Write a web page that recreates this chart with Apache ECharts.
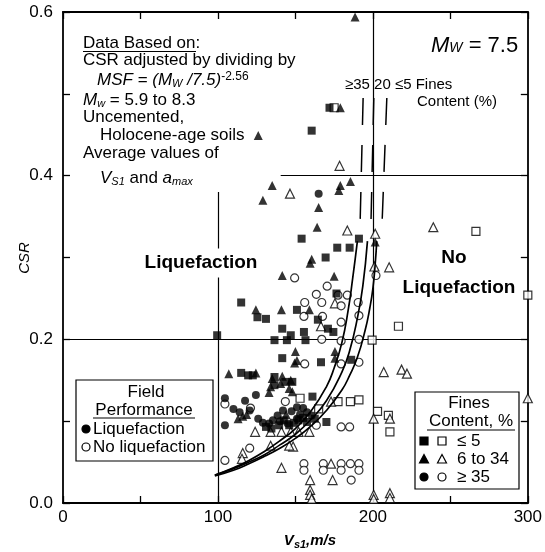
<!DOCTYPE html>
<html>
<head>
<meta charset="utf-8">
<title>CSR vs Vs1</title>
<script src="https://cdn.jsdelivr.net/npm/echarts@6/dist/echarts.min.js"></script>
<style>
  html, body { margin: 0; padding: 0; background: #fff; }
  #chart { width: 545px; height: 552px; }
</style>
</head>
<body>
<div id="chart"></div>
<script>
// tick labels
var xLabelValues = [0, 100, 200, 300];
var yLabelValues = [0.0, 0.2, 0.4, 0.6];

// field case histories [Vs1 (m/s), CSR]
// liquefaction, fines <= 5 %
var liqSand = [
  [172, 0.483], [160.5, 0.455], [154, 0.323], [191, 0.323], [177, 0.312], [185, 0.312],
  [169.5, 0.300], [176.5, 0.256], [115, 0.245], [125.5, 0.227], [131, 0.225], [151, 0.236],
  [164.5, 0.224], [171, 0.213], [174.5, 0.209], [141.5, 0.213], [147, 0.205], [155.5, 0.209],
  [156.5, 0.199], [136.5, 0.199], [144.5, 0.199], [99.5, 0.205], [141.5, 0.177], [166.5, 0.172],
  [186, 0.175], [115, 0.159], [119.5, 0.156], [122.5, 0.156], [136.5, 0.154], [136.5, 0.144],
  [143.5, 0.148], [148, 0.148], [161, 0.130], [170, 0.099], [131, 0.093], [134.5, 0.091],
  [139.5, 0.095], [146, 0.095], [152, 0.101], [157.5, 0.099], [162.5, 0.103], [149, 0.098],
  [155, 0.104], [142.5, 0.101]
];
// liquefaction, fines 6 to 34 %
var liqSilty = [
  [188.5, 0.594], [179, 0.483], [126, 0.449], [185.5, 0.393], [179, 0.388], [178, 0.382],
  [135, 0.388], [129, 0.370], [165, 0.361], [164, 0.337], [201.5, 0.319], [160.5, 0.298],
  [159.5, 0.293], [141.5, 0.278], [175, 0.277], [124.5, 0.236], [141, 0.236], [159, 0.236],
  [150, 0.185], [151, 0.174], [149.5, 0.171], [175.5, 0.185], [175.5, 0.177], [107, 0.158],
  [124.5, 0.159], [135, 0.152], [141.5, 0.155], [147, 0.150], [134, 0.142], [140.5, 0.146],
  [146, 0.140], [133, 0.135], [148, 0.136], [113, 0.103], [116, 0.106], [118.5, 0.108],
  [144, 0.108]
];
// liquefaction, fines >= 35 %
var liqFines = [
  [165, 0.378], [104.5, 0.128], [104.5, 0.095], [110, 0.115], [114, 0.111], [117.5, 0.125],
  [124.5, 0.132], [120.5, 0.113], [126, 0.103], [129, 0.098], [133, 0.097], [135.5, 0.101],
  [138.5, 0.107], [142, 0.113], [145, 0.097], [151, 0.103], [151, 0.117], [153, 0.108],
  [157.5, 0.111], [160.5, 0.107], [147.5, 0.112], [140, 0.100], [155, 0.116]
];
// no liquefaction, fines <= 5 %
var nonSand = [
  [175, 0.483], [266.5, 0.332], [300, 0.254], [216.5, 0.216], [199.5, 0.199], [203, 0.112],
  [210, 0.107], [211, 0.087], [177.5, 0.124], [185.5, 0.124], [191, 0.126], [153, 0.128],
  [165, 0.115]
];
// no liquefaction, fines 6 to 34 %
var nonSilty = [
  [178.5, 0.412], [146.5, 0.378], [183.5, 0.333], [201.5, 0.329], [201, 0.289], [210.5, 0.288],
  [239, 0.337], [175.5, 0.244], [166.5, 0.216], [207, 0.160], [218.5, 0.163], [222, 0.158],
  [300, 0.128], [200.5, 0.103], [211, 0.103], [200.5, 0.010], [200.5, 0.005], [211, 0.012],
  [211, 0.006], [159.5, 0.016], [159.5, 0.010], [160.5, 0.005], [159.5, 0.028], [141, 0.043],
  [173, 0.048], [174, 0.028], [173, 0.124], [124, 0.087], [134, 0.087], [141, 0.087],
  [147, 0.087], [152, 0.087], [159, 0.087], [148.5, 0.069], [146, 0.070], [134, 0.070],
  [116, 0.061], [115.5, 0.054]
];
// no liquefaction, fines >= 35 %
var nonFines = [
  [149.5, 0.275], [170.5, 0.265], [202, 0.278], [163.5, 0.255], [167, 0.245], [156, 0.245],
  [177.5, 0.254], [183.5, 0.254], [190.5, 0.245], [179.5, 0.241], [155.5, 0.228], [167.5, 0.228],
  [179.5, 0.221], [191, 0.229], [167, 0.200], [179.5, 0.198], [191, 0.200], [156, 0.170],
  [179.5, 0.170], [191, 0.172], [143.5, 0.124], [104.5, 0.121], [121, 0.116], [163.5, 0.095],
  [120.5, 0.067], [104.5, 0.052], [179.5, 0.093], [185, 0.093], [155.5, 0.048], [155.5, 0.040],
  [168, 0.048], [168, 0.040], [179.5, 0.048], [179.5, 0.040], [185.5, 0.048], [186, 0.028],
  [191, 0.048], [191, 0.040]
];

// boundary curves
var curveFC35 = [
  [98, 0.034], [110, 0.043], [120, 0.052], [130, 0.063], [140, 0.076], [150, 0.091],
  [160, 0.112], [170, 0.142], [175, 0.165], [180, 0.196], [184, 0.235], [187, 0.275], [190, 0.320]
];
var curveFC20 = [
  [98, 0.034], [110, 0.042], [120, 0.050], [130, 0.059], [140, 0.071], [150, 0.084],
  [160, 0.102], [170, 0.125], [180, 0.160], [185, 0.186], [190, 0.226], [193.5, 0.265], [196.5, 0.320]
];
var curveFC5 = [
  [98, 0.033], [110, 0.040], [120, 0.048], [130, 0.057], [140, 0.067], [150, 0.079],
  [160, 0.094], [170, 0.113], [180, 0.138], [185, 0.156], [190, 0.178], [195, 0.211],
  [198, 0.238], [200, 0.262], [201.5, 0.292], [202.5, 0.320]
];

// solid guide lines and dashed asymptotes
var guideLines = [
  [[200, 0], [200, 0.6]],
  [[100, 0], [100, 0.38]],
  [[0, 0.2], [300, 0.2]],
  [[140.5, 0.4], [300, 0.4]]
];
var asymptotes = [
  [[193.7, 0.495], [191.8, 0.345]],
  [[200.6, 0.495], [198.8, 0.345]],
  [[209, 0.495], [206, 0.345]]
];

var FONT = '"Liberation Sans", Arial, Helvetica, sans-serif';

function near(list, v) {
  return list.some(function (t) { return Math.abs(t - v) < 1e-6; });
}

function scatter(name, data, symbol, filled, size) {
  return {
    name: name,
    type: 'scatter',
    data: data,
    symbol: symbol,
    symbolSize: size,
    itemStyle: filled
      ? { color: '#000' }
      : { color: '#fff', borderColor: '#000', borderWidth: 1.2 },
    z: filled ? 4 : 3
  };
}

function curve(name, data) {
  return {
    name: name,
    type: 'line',
    data: data,
    smooth: true,
    symbol: 'none',
    lineStyle: { color: '#000', width: 1.7 },
    z: 5
  };
}

function txt(x, y, text, font, align) {
  return {
    type: 'text', x: x, y: y, z: 50,
    style: { text: text, font: font || '17px ' + FONT, fill: '#000',
             textAlign: align || 'left', verticalAlign: 'middle' }
  };
}

function richTxt(x, y, text, rich, align) {
  return {
    type: 'text', x: x, y: y, z: 50,
    style: { text: text, rich: rich, fill: '#000', lineHeight: 19,
             textAlign: align || 'left', verticalAlign: 'middle' }
  };
}

function hline(x1, x2, y) {
  return { type: 'line', z: 50, shape: { x1: x1, y1: y, x2: x2, y2: y },
           style: { stroke: '#000', lineWidth: 1.2 } };
}

var norm = { font: '17px ' + FONT, verticalAlign: 'middle' };
var ital = { font: 'italic 17px ' + FONT, verticalAlign: 'middle' };
var sub = { font: 'italic 11px ' + FONT, verticalAlign: 'bottom' };
var sup = { font: '12px ' + FONT, verticalAlign: 'top' };

// legend symbols (decoration only)
function sq(cx, cy, filled) {
  return { type: 'rect', z: 50, shape: { x: cx - 4, y: cy - 4, width: 8, height: 8 },
           style: { fill: filled ? '#000' : '#fff', stroke: '#000', lineWidth: 1.2 } };
}
function tri(cx, cy, filled) {
  return { type: 'polygon', z: 50, shape: { points: [[cx, cy - 4.5], [cx + 4.5, cy + 4], [cx - 4.5, cy + 4]] },
           style: { fill: filled ? '#000' : '#fff', stroke: '#000', lineWidth: 1.2 } };
}
function dot(cx, cy, filled) {
  return { type: 'circle', z: 50, shape: { cx: cx, cy: cy, r: 4 },
           style: { fill: filled ? '#000' : '#fff', stroke: '#000', lineWidth: 1.2 } };
}

var chart = echarts.init(document.getElementById('chart'));

var axisLine = { onZero: false, lineStyle: { color: '#000', width: 1.8 } };
var axisTick = { inside: true, length: 7, lineStyle: { color: '#000', width: 1.3 } };

var option = {
  animation: false,
  backgroundColor: '#fff',
  grid: { left: 63, top: 12, width: 474, height: 491 },
  xAxis: [
    {
      type: 'value', position: 'bottom', min: 0, max: 300, interval: 50,
      axisLine: axisLine, axisTick: axisTick, splitLine: { show: false },
      axisLabel: {
        margin: 6, color: '#000', fontSize: 17, fontFamily: FONT,
        formatter: function (v) { return near(xLabelValues, v) ? String(v) : ''; }
      }
    },
    {
      type: 'value', position: 'top', min: 0, max: 300, interval: 50,
      axisLine: axisLine, axisTick: axisTick, splitLine: { show: false },
      axisLabel: { show: false }
    }
  ],
  yAxis: [
    {
      type: 'value', position: 'left', min: 0, max: 0.6, interval: 0.1,
      axisLine: axisLine, axisTick: axisTick, splitLine: { show: false },
      axisLabel: {
        margin: 10, color: '#000', fontSize: 17, fontFamily: FONT,
        formatter: function (v) { return near(yLabelValues, v) ? v.toFixed(1) : ''; }
      }
    },
    {
      type: 'value', position: 'right', min: 0, max: 0.6, interval: 0.1,
      axisLine: axisLine, axisTick: axisTick, splitLine: { show: false },
      axisLabel: { show: false }
    }
  ],
  series: [
    {
      type: 'lines', coordinateSystem: 'cartesian2d', silent: true, z: 1,
      data: guideLines.map(function (c) { return { coords: c }; }),
      lineStyle: { color: '#000', width: 1.2, opacity: 1 }
    },
    {
      type: 'lines', coordinateSystem: 'cartesian2d', silent: true, z: 1,
      data: asymptotes.map(function (c) { return { coords: c }; }),
      lineStyle: { color: '#000', width: 1.5, opacity: 1, type: [27, 20] }
    },
    curve('FC >= 35', curveFC35),
    curve('FC 20', curveFC20),
    curve('FC <= 5', curveFC5),
    scatter('No liq, FC <= 5', nonSand, 'rect', false, 8),
    scatter('No liq, FC 6-34', nonSilty, 'triangle', false, 9),
    scatter('No liq, FC >= 35', nonFines, 'circle', false, 8),
    scatter('Liq, FC <= 5', liqSand, 'rect', true, 8),
    scatter('Liq, FC 6-34', liqSilty, 'triangle', true, 9),
    scatter('Liq, FC >= 35', liqFines, 'circle', true, 8)
  ],
  graphic: [
    // y axis title
    {
      type: 'text', x: 25, y: 258, z: 50, rotation: Math.PI / 2,
      style: { text: 'CSR', font: 'italic 15px ' + FONT, fill: '#000',
               textAlign: 'center', verticalAlign: 'middle' }
    },

    // data notes, upper left
    txt(83, 43, 'Data Based on:'),
    hline(83, 196, 51.5),
    txt(83, 60, 'CSR adjusted by dividing by'),
    richTxt(97, 80, '{i|MSF = (M}{s|W}{i| /7.5)}{p|-2.56}', { i: ital, s: sub, p: sup }),
    richTxt(83, 100, '{i|M}{s|w}{n| = 5.9 to 8.3}', { i: ital, s: sub, n: norm }),
    txt(83, 117, 'Uncemented,'),
    txt(100, 135, 'Holocene-age soils'),
    txt(83, 153, 'Average values of'),
    richTxt(100, 178, '{i|V}{s|S1}{n| and }{i|a}{s|max}', { i: ital, s: sub, n: norm }),

    // magnitude
    richTxt(431, 46, '{i|M}{s|W}{n| = 7.5}', {
      i: { font: 'italic 22px ' + FONT, verticalAlign: 'middle' },
      s: { font: 'italic 14px ' + FONT, verticalAlign: 'bottom' },
      n: { font: '22px ' + FONT, verticalAlign: 'middle' }
    }),

    // fines content labels over asymptotes
    txt(345, 85, '\u226535 20 \u22645 Fines', '15px ' + FONT),
    txt(417, 102, 'Content (%)', '15px ' + FONT),

    // region labels
    {
      type: 'text', x: 201, y: 263, z: 60,
      style: { text: 'Liquefaction', font: 'bold 19px ' + FONT, fill: '#000',
               textAlign: 'center', verticalAlign: 'middle',
               backgroundColor: '#fff', padding: [5, 3] }
    },
    txt(454, 258, 'No', 'bold 19px ' + FONT, 'center'),
    txt(459, 288, 'Liquefaction', 'bold 19px ' + FONT, 'center'),

    // field performance box
    { type: 'rect', z: 40, shape: { x: 76, y: 380, width: 137, height: 81 },
      style: { fill: '#fff', stroke: '#000', lineWidth: 1.2 } },
    txt(146, 392, 'Field', null, 'center'),
    txt(144, 410, 'Performance', null, 'center'),
    hline(93, 195, 418),
    dot(86, 429, true),
    txt(93, 429, 'Liquefaction'),
    dot(86, 447, false),
    txt(93, 447, 'No liquefaction'),

    // fines content box
    { type: 'rect', z: 40, shape: { x: 415, y: 392, width: 104, height: 97 },
      style: { fill: '#fff', stroke: '#000', lineWidth: 1.2 } },
    txt(469, 403, 'Fines', null, 'center'),
    txt(471, 421, 'Content, %', null, 'center'),
    hline(427, 515, 430),
    sq(424, 441, true), sq(442, 441, false), txt(457, 441, '\u2264 5'),
    tri(424, 459, true), tri(442, 459, false), txt(457, 459, '6 to 34'),
    dot(424, 477, true), dot(442, 477, false), txt(457, 477, '\u2265 35'),

    // x axis title
    richTxt(310, 541, '{v|V}{s|s1}{t|,m/s}', {
      v: { font: 'italic bold 15px ' + FONT, verticalAlign: 'middle' },
      s: { font: 'italic bold 11px ' + FONT, verticalAlign: 'bottom' },
      t: { font: 'italic bold 15px ' + FONT, verticalAlign: 'middle' }
    }, 'center')
  ]
};

chart.setOption(option);
</script>
</body>
</html>
